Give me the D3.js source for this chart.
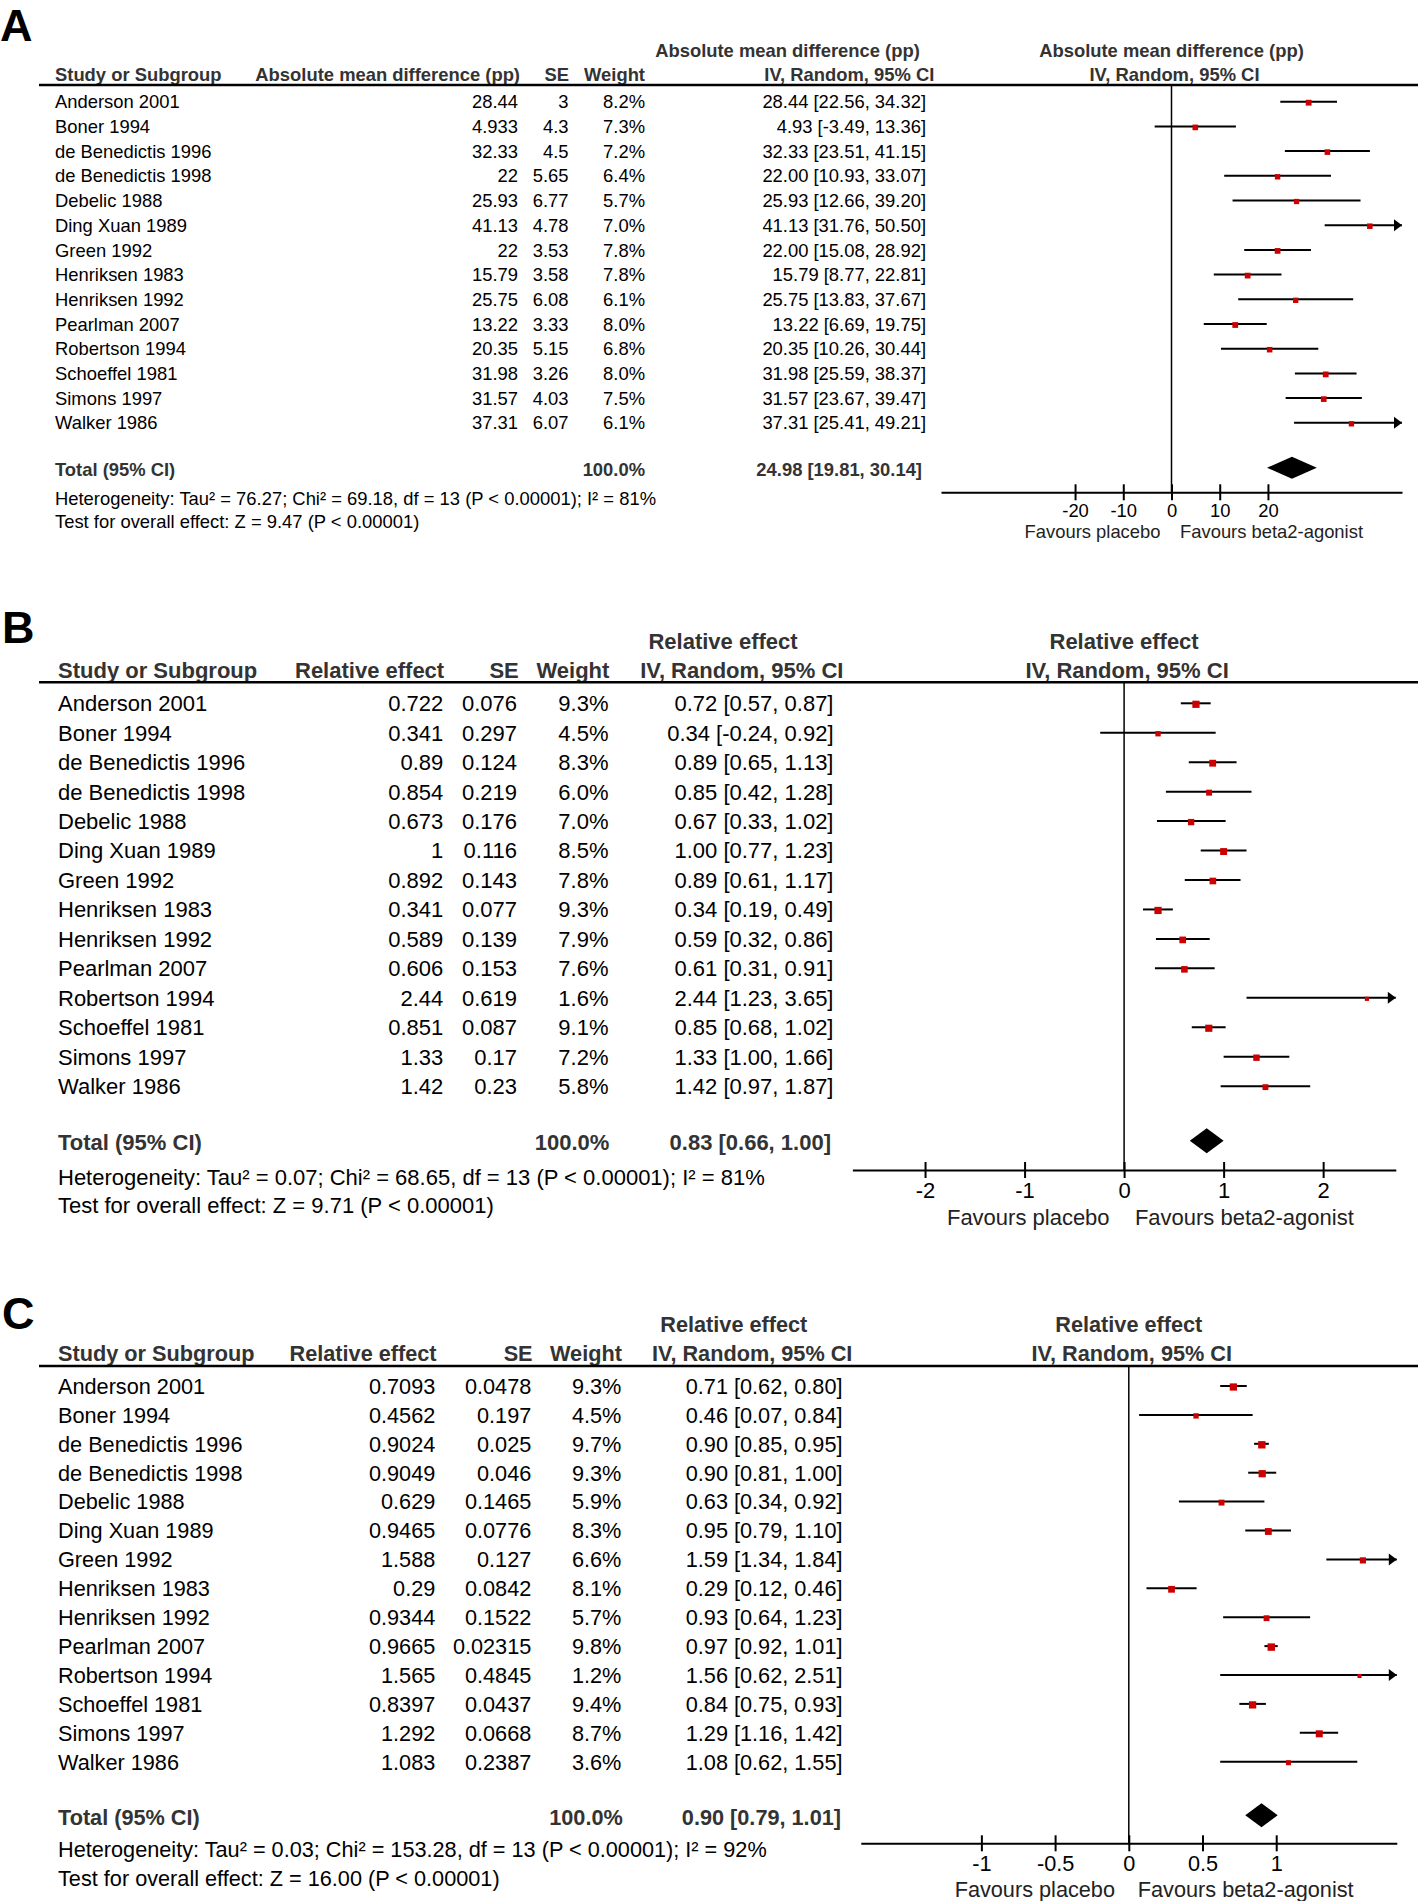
<!DOCTYPE html>
<html><head><meta charset="utf-8">
<script src="https://cdn.jsdelivr.net/npm/d3@7"></script>
<style>
body{margin:0;background:#fff}
svg{display:block}
text{font-family:"Liberation Sans",Arial,Helvetica,sans-serif}
</style>
</head><body>
<svg id="chart" width="1418" height="1901"></svg>
<script>
// ---------------- DATA ----------------
const studies = ["Anderson 2001","Boner 1994","de Benedictis 1996","de Benedictis 1998","Debelic 1988","Ding Xuan 1989","Green 1992","Henriksen 1983","Henriksen 1992","Pearlman 2007","Robertson 1994","Schoeffel 1981","Simons 1997","Walker 1986"];

// Panel A
const measureA = "Absolute mean difference (pp)";
const effA = [28.44, 4.933, 32.33, 22, 25.93, 41.13, 22, 15.79, 25.75, 13.22, 20.35, 31.98, 31.57, 37.31];
const seA  = [3, 4.3, 4.5, 5.65, 6.77, 4.78, 3.53, 3.58, 6.08, 3.33, 5.15, 3.26, 4.03, 6.07];
const wA   = [8.2, 7.3, 7.2, 6.4, 5.7, 7.0, 7.8, 7.8, 6.1, 8.0, 6.8, 8.0, 7.5, 6.1];
const loA  = [22.56, -3.49, 23.51, 10.93, 12.66, 31.76, 15.08, 8.77, 13.83, 6.69, 10.26, 25.59, 23.67, 25.41];
const hiA  = [34.32, 13.36, 41.15, 33.07, 39.20, 50.50, 28.92, 22.81, 37.67, 19.75, 30.44, 38.37, 39.47, 49.21];
const totalA = [24.98, 19.81, 30.14];
const ticksA = [-20, -10, 0, 10, 20];
const hetA  = "Heterogeneity: Tau² = 76.27; Chi² = 69.18, df = 13 (P < 0.00001); I² = 81%";
const testA = "Test for overall effect: Z = 9.47 (P < 0.00001)";

// Panel B
const measureB = "Relative effect";
const effB = [0.722, 0.341, 0.89, 0.854, 0.673, 1, 0.892, 0.341, 0.589, 0.606, 2.44, 0.851, 1.33, 1.42];
const seB  = [0.076, 0.297, 0.124, 0.219, 0.176, 0.116, 0.143, 0.077, 0.139, 0.153, 0.619, 0.087, 0.17, 0.23];
const wB   = [9.3, 4.5, 8.3, 6.0, 7.0, 8.5, 7.8, 9.3, 7.9, 7.6, 1.6, 9.1, 7.2, 5.8];
const loB  = [0.57, -0.24, 0.65, 0.42, 0.33, 0.77, 0.61, 0.19, 0.32, 0.31, 1.23, 0.68, 1.00, 0.97];
const hiB  = [0.87, 0.92, 1.13, 1.28, 1.02, 1.23, 1.17, 0.49, 0.86, 0.91, 3.65, 1.02, 1.66, 1.87];
const totalB = [0.83, 0.66, 1.00];
const ticksB = [-2, -1, 0, 1, 2];
const hetB  = "Heterogeneity: Tau² = 0.07; Chi² = 68.65, df = 13 (P < 0.00001); I² = 81%";
const testB = "Test for overall effect: Z = 9.71 (P < 0.00001)";

// Panel C
const measureC = "Relative effect";
const effC = [0.7093, 0.4562, 0.9024, 0.9049, 0.629, 0.9465, 1.588, 0.29, 0.9344, 0.9665, 1.565, 0.8397, 1.292, 1.083];
const seC  = [0.0478, 0.197, 0.025, 0.046, 0.1465, 0.0776, 0.127, 0.0842, 0.1522, 0.02315, 0.4845, 0.0437, 0.0668, 0.2387];
const wC   = [9.3, 4.5, 9.7, 9.3, 5.9, 8.3, 6.6, 8.1, 5.7, 9.8, 1.2, 9.4, 8.7, 3.6];
const loC  = [0.62, 0.07, 0.85, 0.81, 0.34, 0.79, 1.34, 0.12, 0.64, 0.92, 0.62, 0.75, 1.16, 0.62];
const hiC  = [0.80, 0.84, 0.95, 1.00, 0.92, 1.10, 1.84, 0.46, 1.23, 1.01, 2.51, 0.93, 1.42, 1.55];
const totalC = [0.90, 0.79, 1.01];
const ticksC = [-1, -0.5, 0, 0.5, 1];
const hetC  = "Heterogeneity: Tau² = 0.03; Chi² = 153.28, df = 13 (P < 0.00001); I² = 92%";
const testC = "Test for overall effect: Z = 16.00 (P < 0.00001)";

const favourLeft = "Favours placebo";
const favourRight = "Favours beta2-agonist";

// ---------------- LAYOUT ----------------
const layoutA = {letter:"A", letterX:0, letterY:40.5, letterFs:45, fs:18.4,
  h1Y:50, h2Y:74, ruleY:85, row0:101.7, step:24.7, totalY:469.3, hetY:498.3, testY:521.7,
  xStudy:55, xEff:518, xSE:568.5, xW:645, xCI:926, xTotW:645, xTotCI:922,
  hdrEff:520, hdrSE:569, hdrW:645, hdrCI:934.3, h1Cx:787.5,
  range:[941,1402], domain:[-47.8,47.8], axisY:492.3, tickLabY:510, favY:531.7,
  diamondY:467.7, diamondH:11, sq:[4,6.2], favGapL:11, favGapR:8.5};
const layoutB = {letter:"B", letterX:2, letterY:642.5, letterFs:45, fs:22,
  h1Y:640.7, h2Y:670, ruleY:682.3, row0:703.3, step:29.45, totalY:1141.7, hetY:1176.7, testY:1205,
  xStudy:58, xEff:443.3, xSE:517, xW:608.5, xCI:833.5, xTotW:609.4, xTotCI:831,
  hdrEff:444.2, hdrSE:518.8, hdrW:609.4, hdrCI:843.5, h1Cx:723,
  range:[852.4,1395.8], domain:[-2.73,2.73], axisY:1170, tickLabY:1190, favY:1216.7,
  diamondY:1140.8, diamondH:12.5, sq:[3.6,7.5], favGapL:14.5, favGapR:10.8};
const layoutC = {letter:"C", letterX:2, letterY:1328.5, letterFs:45, fs:21.7,
  h1Y:1324.3, h2Y:1352.7, ruleY:1366, row0:1386, step:28.9, totalY:1816.7, hetY:1849.3, testY:1877.7,
  xStudy:58, xEff:435.3, xSE:531.3, xW:621.4, xCI:842.5, xTotW:622.8, xTotCI:841,
  hdrEff:436.6, hdrSE:532.6, hdrW:621.9, hdrCI:852.4, h1Cx:733.8,
  range:[860.8,1396.8], domain:[-1.818,1.818], axisY:1843.3, tickLabY:1863.3, favY:1889.3,
  diamondY:1815.3, diamondH:12, sq:[3.6,7.5], favGapL:13.8, favGapR:9};

const HDR = "#333";
const RED = "#cc0000";

const svg = d3.select("#chart");

function f2(v){ return v.toFixed(2); }

function drawPanel(d, c) {
  const g = svg.append("g");
  const fs = c.fs;
  const T = (x, y, s, anchor, bold, color) =>
    g.append("text").attr("x", x).attr("y", y + 0.36 * fs)
      .attr("text-anchor", anchor || "start").attr("font-size", fs)
      .attr("font-weight", bold ? "bold" : "normal").attr("fill", color || "#000").text(s);

  const x = d3.scaleLinear().domain(c.domain).range(c.range);
  const y = d3.scaleLinear().domain([0, d.studies.length - 1])
    .range([c.row0, c.row0 + (d.studies.length - 1) * c.step]);
  const sq = d3.scaleLinear().domain([0, 10]).range(c.sq);
  const zero = x(0);

  // letter
  g.append("text").attr("x", c.letterX).attr("y", c.letterY).attr("font-size", c.letterFs)
    .attr("font-weight", "bold").attr("fill", "#000").text(c.letter);

  // headers
  T(c.h1Cx, c.h1Y, d.measure, "middle", true, HDR);
  T(zero, c.h1Y, d.measure, "middle", true, HDR);
  T(c.xStudy, c.h2Y, "Study or Subgroup", "start", true, HDR);
  T(c.hdrEff, c.h2Y, d.measure, "end", true, HDR);
  T(c.hdrSE, c.h2Y, "SE", "end", true, HDR);
  T(c.hdrW, c.h2Y, "Weight", "end", true, HDR);
  T(c.hdrCI, c.h2Y, "IV, Random, 95% CI", "end", true, HDR);
  T(zero + 3, c.h2Y, "IV, Random, 95% CI", "middle", true, HDR);

  g.append("line").attr("x1", 39).attr("x2", 1418).attr("y1", c.ruleY).attr("y2", c.ruleY)
    .attr("stroke", "#000").attr("stroke-width", 2.5);

  // rows
  d.studies.forEach((s, i) => {
    const yy = y(i);
    T(c.xStudy, yy, s);
    T(c.xEff, yy, String(d.eff[i]), "end");
    T(c.xSE, yy, String(d.se[i]), "end");
    T(c.xW, yy, d.w[i].toFixed(1) + "%", "end");
    T(c.xCI, yy, `${f2(d.eff[i])} [${f2(d.lo[i])}, ${f2(d.hi[i])}]`, "end");
  });

  // total
  T(c.xStudy, c.totalY, "Total (95% CI)", "start", true, HDR);
  T(c.xTotW, c.totalY, "100.0%", "end", true, HDR);
  T(c.xTotCI, c.totalY, `${f2(d.total[0])} [${f2(d.total[1])}, ${f2(d.total[2])}]`, "end", true, HDR);
  T(c.xStudy, c.hetY, d.het);
  T(c.xStudy, c.testY, d.test);

  // zero line
  g.append("line").attr("x1", zero).attr("x2", zero).attr("y1", c.ruleY).attr("y2", c.axisY)
    .attr("stroke", "#000").attr("stroke-width", 1.5);

  // CIs
  const [d0, d1] = c.domain;
  d.studies.forEach((s, i) => {
    const yy = y(i);
    const a = Math.max(d.lo[i], d0), b = Math.min(d.hi[i], d1);
    g.append("line").attr("x1", x(a)).attr("x2", x(b)).attr("y1", yy).attr("y2", yy)
      .attr("stroke", "#000").attr("stroke-width", 2);
    if (d.hi[i] > d1) {
      const tx = x(d1);
      g.append("path").attr("d", `M${tx},${yy} L${tx-8},${yy-6} L${tx-8},${yy+6} Z`).attr("fill", "#000");
    }
    if (d.lo[i] < d0) {
      const tx = x(d0);
      g.append("path").attr("d", `M${tx},${yy} L${tx+8},${yy-6} L${tx+8},${yy+6} Z`).attr("fill", "#000");
    }
    const size = sq(d.w[i]);
    g.append("rect").attr("x", x(d.eff[i]) - size / 2).attr("y", yy + 1 - size / 2)
      .attr("width", size).attr("height", size).attr("fill", RED);
  });

  // diamond
  const dy = c.diamondY, h = c.diamondH;
  g.append("path")
    .attr("d", `M${x(d.total[1])},${dy} L${x(d.total[0])},${dy-h} L${x(d.total[2])},${dy} L${x(d.total[0])},${dy+h} Z`)
    .attr("fill", "#000");

  // axis
  const axis = d3.axisBottom(x).tickValues(d.ticks).tickFormat(t => String(t))
    .tickSizeInner(8).tickSizeOuter(0);
  const ag = g.append("g").attr("transform", `translate(0,${c.axisY})`).call(axis);
  ag.select(".domain").attr("stroke", "#000").attr("stroke-width", 2);
  ag.selectAll(".tick line").attr("y1", -8).attr("y2", 8).attr("stroke", "#000").attr("stroke-width", 2);
  ag.selectAll(".tick text").attr("y", c.tickLabY - c.axisY + 0.36 * fs).attr("dy", null)
    .attr("font-size", fs).attr("fill", "#000")
    .style("font-family", "'Liberation Sans', Arial, Helvetica, sans-serif");

  T(zero - c.favGapL, c.favY, favourLeft, "end", false, "#222");
  T(zero + c.favGapR, c.favY, favourRight, "start", false, "#222");
}

drawPanel({measure:measureA, studies, eff:effA, se:seA, w:wA, lo:loA, hi:hiA, total:totalA, ticks:ticksA, het:hetA, test:testA}, layoutA);
drawPanel({measure:measureB, studies, eff:effB, se:seB, w:wB, lo:loB, hi:hiB, total:totalB, ticks:ticksB, het:hetB, test:testB}, layoutB);
drawPanel({measure:measureC, studies, eff:effC, se:seC, w:wC, lo:loC, hi:hiC, total:totalC, ticks:ticksC, het:hetC, test:testC}, layoutC);
</script>
</body></html>
